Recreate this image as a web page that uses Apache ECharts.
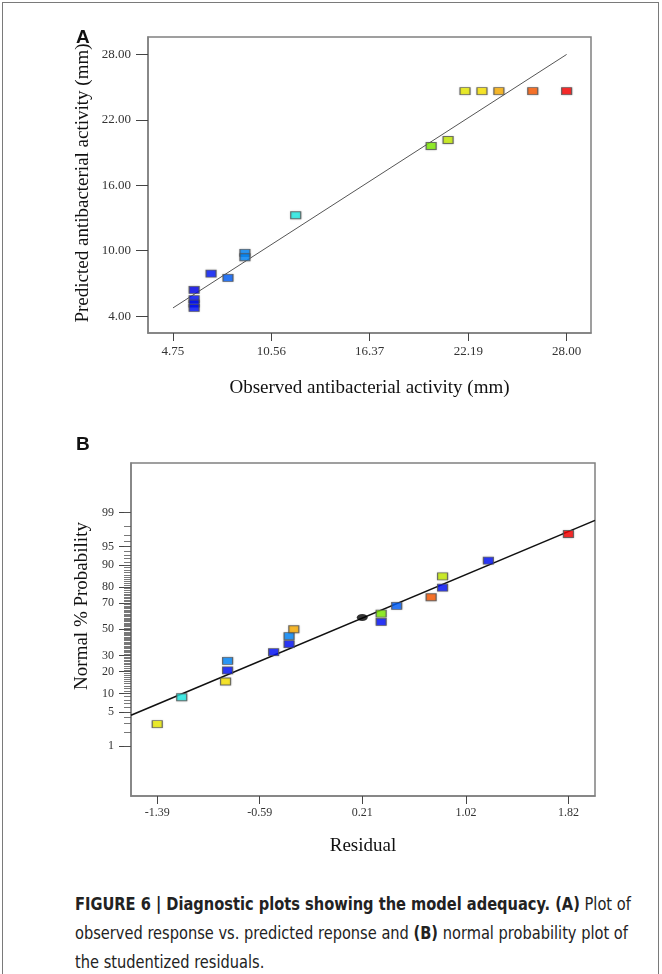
<!DOCTYPE html>
<html>
<head>
<meta charset="utf-8">
<script src="https://cdn.jsdelivr.net/npm/echarts@6/dist/echarts.min.js"></script>
<style>
  html, body { margin: 0; padding: 0; background: #fff; }
  #frame { position: absolute; left: 2px; top: 2px; width: 657px; height: 1000px; border: 1px solid #7a7a7a; border-bottom: none; box-sizing: border-box; }
  #chart { position: absolute; left: 0; top: 0; width: 662px; height: 870px; }
  #caption { position: absolute; left: 75px; top: 890px; white-space: nowrap; transform: scaleX(0.956); transform-origin: 0 0;
    font-family: "Liberation Sans Narrow", "DejaVu Sans Condensed", "Liberation Sans", sans-serif; font-size: 17px; line-height: 29px; color: #222; }
  #caption b { font-weight: bold; }
</style>
</head>
<body>
<div id="frame"></div>
<div id="chart"></div>
<div id="caption"><b>FIGURE 6 | Diagnostic plots showing the model adequacy. (A)</b> Plot of<br>observed response vs. predicted reponse and <b>(B)</b> normal probability plot of<br>the studentized residuals.</div>
<script>
// --- Panel A: predicted vs. observed ---
const obsA = [6, 6, 6, 6, 7, 8, 9, 9, 12, 20, 21, 22, 23, 24, 26, 28];
const predA = [6.4, 5.55, 5.15, 4.75, 7.9, 7.5, 9.8, 9.4, 13.25, 19.6, 20.15, 24.64, 24.64, 24.64, 24.64, 24.64];
const colorsA = ["#0000f0", "#0010ff", "#0010ff", "#0010ff", "#0018ff", "#0060ff", "#0088ff", "#0088ff",
  "#20f0e8", "#80f000", "#c8f000", "#eef000", "#ffe800", "#ffb000", "#ff5a00", "#ff0000"];
const fitLineA = [[4.75, 4.75], [28, 28]];
const xTicksA = [4.75, 10.56, 16.37, 22.19, 28.0];
const yTicksA = [4, 10, 16, 22, 28];

// --- Panel B: normal probability of residuals ---
const residB = [-1.39, -1.199, -0.857, -0.841, -0.841, -0.482, -0.361, -0.361, -0.324,
  0.358, 0.358, 0.479, 0.748, 0.837, 0.837, 1.195, 1.82];
const probB = [2.94, 8.8, 14.9, 20.6, 26.4, 32.4, 38.3, 44.5, 50,
  55.8, 62.2, 67.9, 73.8, 79.6, 85.4, 91.4, 97.1];
const colorsB = ["#f0f000", "#20f0e8", "#ffe800", "#0010ff", "#0088ff", "#0010ff", "#0010ff", "#0088ff", "#ffb000",
  "#0010ff", "#80f000", "#0060ff", "#ff5a00", "#0010ff", "#c8f000", "#0010ff", "#ff0000"];
const centerB = [[0.21, 59.2]];
const fitLineB = [[-1.595, 4.36], [2.027, 98.49]];
const xTicksB = [-1.39, -0.59, 0.21, 1.02, 1.82];
const yLabelsB = [1, 5, 10, 20, 30, 50, 70, 80, 90, 95, 99];
const yMinorB = Array.from({ length: 99 }, (_, i) => i + 1);

// inverse normal cdf (Acklam)
function probit(p) {
  const a = [-3.969683028665376e+01, 2.209460984245205e+02, -2.759285104469687e+02, 1.383577518672690e+02, -3.066479806614716e+01, 2.506628277459239e+00];
  const b = [-5.447609879822406e+01, 1.615858368580409e+02, -1.556989798598866e+02, 6.680131188771972e+01, -1.328068155288572e+01];
  const c = [-7.784894002430293e-03, -3.223964580411365e-01, -2.400758277161838e+00, -2.549732539343734e+00, 4.374664141464968e+00, 2.938163982698783e+00];
  const d = [7.784695709041462e-03, 3.224671290700398e-01, 2.445134137142996e+00, 3.754408661907416e+00];
  const pl = 0.02425, ph = 1 - pl;
  let q, r;
  if (p < pl) {
    q = Math.sqrt(-2 * Math.log(p));
    return (((((c[0] * q + c[1]) * q + c[2]) * q + c[3]) * q + c[4]) * q + c[5]) / ((((d[0] * q + d[1]) * q + d[2]) * q + d[3]) * q + 1);
  }
  if (p <= ph) {
    q = p - 0.5; r = q * q;
    return (((((a[0] * r + a[1]) * r + a[2]) * r + a[3]) * r + a[4]) * r + a[5]) * q / (((((b[0] * r + b[1]) * r + b[2]) * r + b[3]) * r + b[4]) * r + 1);
  }
  q = Math.sqrt(-2 * Math.log(1 - p));
  return -(((((c[0] * q + c[1]) * q + c[2]) * q + c[3]) * q + c[4]) * q + c[5]) / ((((d[0] * q + d[1]) * q + d[2]) * q + d[3]) * q + 1);
}
const z = (pct) => probit(pct / 100);

const SERIF = "Liberation Serif";
const BOX = "#808080";
const tickLabel = { fontFamily: SERIF, fontSize: 13, color: "#333" };
const axisName = { fontFamily: SERIF, fontSize: 19, color: "#111" };
const boxPoint = { symbol: "rect", symbolSize: [10, 7] };
const pointBorder = { borderColor: "#555", borderWidth: 1, shadowColor: "rgba(0,0,0,0.25)", shadowBlur: 2 };
const boxLine = { show: true, onZero: false, lineStyle: { color: BOX, width: 1.5 } };

const chart = echarts.init(document.getElementById("chart"), null, { renderer: "canvas" });

const yTicksBz = yLabelsB.map(z);
const yMinorBz = yMinorB.map(z);

// vertical axis titles, placed by hand so they can sit off-centre like the original
function yTitle(text, x, y) {
  return {
    type: "text", x, y, rotation: Math.PI / 2,
    style: { text, font: "19px Liberation Serif", fill: "#111", align: "center", verticalAlign: "middle" },
  };
}

chart.setOption({
  animation: false,
  graphic: [
    { type: "text", left: 76, top: 28, style: { text: "A", font: "bold 19px Liberation Sans", fill: "#111" } },
    { type: "text", left: 76, top: 435, style: { text: "B", font: "bold 19px Liberation Sans", fill: "#111" } },
    yTitle("Predicted antibacterial activity (mm)", 83, 183),
    yTitle("Normal % Probability", 82, 606),
  ],
  grid: [
    { left: 148, top: 37, width: 443, height: 296, show: true, borderColor: BOX, borderWidth: 1.5 },
    { left: 131, top: 463, width: 464, height: 333, show: true, borderColor: BOX, borderWidth: 1.5 },
  ],
  xAxis: [
    {
      gridIndex: 0, type: "value", min: 3.275, max: 29.44,
      axisLine: boxLine,
      axisTick: { show: true, length: 8, customValues: xTicksA, lineStyle: { color: "#444" } },
      axisLabel: { customValues: xTicksA, formatter: (v) => v.toFixed(2), margin: 12, ...tickLabel },
      splitLine: { show: false },
      name: "Observed antibacterial activity (mm)", nameLocation: "middle", nameGap: 46, nameTextStyle: axisName,
    },
    {
      gridIndex: 1, type: "value", min: -1.595, max: 2.027,
      axisLine: boxLine,
      axisTick: { show: true, length: 8, customValues: xTicksB, lineStyle: { color: "#444" } },
      axisLabel: { customValues: xTicksB, formatter: (v) => v.toFixed(2), margin: 11, ...tickLabel, fontSize: 12 },
      splitLine: { show: false },
      name: "Residual", nameLocation: "middle", nameGap: 41, nameTextStyle: axisName,
    },
  ],
  yAxis: [
    {
      gridIndex: 0, type: "value", min: 2.45, max: 29.6,
      axisLine: boxLine,
      axisTick: { show: true, length: 12, customValues: yTicksA, lineStyle: { color: "#444" } },
      axisLabel: { customValues: yTicksA, formatter: (v) => v.toFixed(2), margin: 17, ...tickLabel },
      splitLine: { show: false },
    },
    {
      gridIndex: 1, type: "value", min: -3.32, max: 3.31, position: "left",
      axisLine: boxLine,
      axisTick: { show: true, length: 12, customValues: yTicksBz, lineStyle: { color: "#444" } },
      axisLabel: {
        customValues: yTicksBz, margin: 17, ...tickLabel, fontSize: 12,
        formatter: (v) => {
          const i = yTicksBz.findIndex((t) => Math.abs(t - v) < 1e-6);
          return i >= 0 ? String(yLabelsB[i]) : "";
        },
      },
      splitLine: { show: false },
    },
    {
      gridIndex: 1, type: "value", min: -3.32, max: 3.31, position: "left",
      axisLine: { show: false, onZero: false },
      axisTick: { show: true, length: 7, customValues: yMinorBz, lineStyle: { color: "#555", width: 0.8 } },
      axisLabel: { show: false },
      splitLine: { show: false },
    },
  ],
  series: [
    {
      type: "line", xAxisIndex: 0, yAxisIndex: 0, data: fitLineA, symbol: "none", z: 1,
      lineStyle: { color: "#555", width: 1 },
    },
    {
      type: "scatter", xAxisIndex: 0, yAxisIndex: 0, z: 3, ...boxPoint,
      data: obsA.map((x, i) => ({ value: [x, predA[i]], itemStyle: { color: colorsA[i], ...pointBorder } })),
    },
    {
      type: "line", xAxisIndex: 1, yAxisIndex: 1, symbol: "none", z: 1,
      data: fitLineB.map(([x, p]) => [x, z(p)]),
      lineStyle: { color: "#111", width: 1.6 },
    },
    {
      type: "scatter", xAxisIndex: 1, yAxisIndex: 1, z: 3, ...boxPoint,
      data: residB.map((x, i) => ({ value: [x, z(probB[i])], itemStyle: { color: colorsB[i], ...pointBorder } })),
    },
    {
      type: "scatter", xAxisIndex: 1, yAxisIndex: 1, z: 3, symbol: "circle", symbolSize: [11, 7],
      data: centerB.map(([x, p]) => [x, z(p)]),
      itemStyle: { color: "#000" },
    },
  ],
});
</script>
</body>
</html>
